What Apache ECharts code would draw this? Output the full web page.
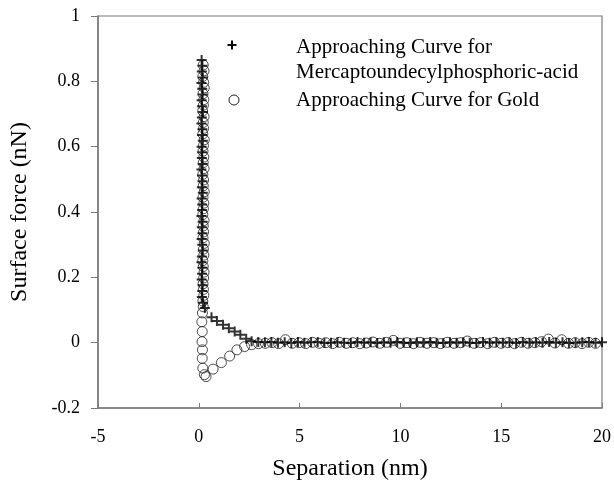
<!DOCTYPE html>
<html>
<head>
<meta charset="utf-8">
<script src="https://cdn.jsdelivr.net/npm/echarts@6/dist/echarts.min.js"></script>
<style>
  html, body { margin: 0; padding: 0; background: #fff; }
  #main { width: 614px; height: 487px; }
</style>
</head>
<body>
<div id="main"></div>
<script>
// separation (nm) / force (nN)
let mupaSep = [
  0.14, 0.18, 0.15, 0.2, 0.13, 0.17, 0.19, 0.14, 0.16, 0.21,
  0.15, 0.13, 0.18, 0.16, 0.2, 0.14, 0.17, 0.15, 0.19, 0.13,
  0.16, 0.18, 0.15, 0.2, 0.14, 0.17, 0.16, 0.13, 0.19, 0.15,
  0.18, 0.14, 0.17, 0.2, 0.15, 0.13, 0.18, 0.16, 0.14, 0.19,
  0.17, 0.15, 0.21,
  0.3, 0.63, 0.9, 1.2, 1.49, 1.78, 2.06, 2.35,
  2.62, 2.95, 3.28, 3.6, 3.93, 4.26, 4.59, 4.92, 5.24, 5.57,
  5.9, 6.23, 6.56, 6.88, 7.21, 7.54, 7.87, 8.2, 8.52, 8.85,
  9.18, 9.51, 9.84, 10.16, 10.49, 10.82, 11.15, 11.48, 11.8, 12.13,
  12.46, 12.79, 13.12, 13.44, 13.77, 14.1, 14.43, 14.76, 15.08, 15.41,
  15.74, 16.07, 16.4, 16.72, 17.05, 17.38, 17.71, 18.04, 18.36, 18.69,
  19.02, 19.35, 19.68, 20.0,
];
let mupaForce = [
  0.865, 0.848, 0.83, 0.812, 0.795, 0.777, 0.76, 0.742, 0.724, 0.706,
  0.689, 0.671, 0.653, 0.636, 0.618, 0.6, 0.583, 0.565, 0.547, 0.53,
  0.512, 0.494, 0.476, 0.459, 0.441, 0.423, 0.406, 0.388, 0.37, 0.353,
  0.335, 0.317, 0.3, 0.282, 0.264, 0.246, 0.229, 0.211, 0.193, 0.176,
  0.158, 0.14, 0.122,
  0.106, 0.078, 0.066, 0.055, 0.044, 0.034, 0.024, 0.012,
  0.004, 0.002, 0.001, 0.002, 0.0, 0.001, -0.001, 0.002, 0.0, 0.001,
  0.002, -0.001, 0.0, 0.001, 0.0, -0.001, 0.002, 0.0, 0.001, -0.001,
  0.001, 0.0, 0.002, 0.0, -0.001, 0.001, 0.0, 0.002, 0.0, -0.001,
  0.001, 0.0, 0.001, 0.0, -0.001, 0.002, 0.0, 0.001, 0.0, 0.001,
  -0.001, 0.002, 0.0, 0.001, 0.0, 0.002, 0.0, 0.001, -0.001, 0.0,
  0.001, 0.002, 0.0, 0.001,
];
let goldSep = [
  0.22, 0.26, 0.2, 0.24, 0.27, 0.21, 0.25, 0.23, 0.19, 0.26,
  0.22, 0.24, 0.2, 0.27, 0.23, 0.21, 0.25, 0.22, 0.26, 0.2,
  0.24, 0.22, 0.27, 0.21, 0.25, 0.23, 0.2, 0.26, 0.22, 0.24,
  0.21, 0.27, 0.23, 0.25, 0.2, 0.22, 0.26, 0.24, 0.21, 0.23,
  0.25, 0.2, 0.22, 0.18, 0.15, 0.17, 0.16, 0.18, 0.17, 0.2,
  0.28, 0.36,
  0.71, 1.12, 1.53, 1.89, 2.27,
  2.62, 2.96, 3.3, 3.63, 3.96, 4.3, 4.63, 4.97, 5.3, 5.64,
  5.97, 6.3, 6.64, 6.97, 7.31, 7.64, 7.98, 8.31, 8.64, 8.98,
  9.31, 9.65, 9.98, 10.32, 10.65, 10.98, 11.32, 11.65, 11.99, 12.32,
  12.66, 12.99, 13.32, 13.66, 13.99, 14.33, 14.66, 15.0, 15.33, 15.66,
  16.0, 16.33, 16.67, 17.0, 17.34, 17.67, 18.0, 18.34, 18.67, 19.01,
  19.34, 19.68,
];
let goldForce = [
  0.85, 0.832, 0.815, 0.797, 0.78, 0.762, 0.744, 0.727, 0.709, 0.692,
  0.674, 0.656, 0.639, 0.621, 0.603, 0.586, 0.568, 0.551, 0.533, 0.515,
  0.498, 0.48, 0.462, 0.445, 0.427, 0.41, 0.392, 0.374, 0.357, 0.339,
  0.321, 0.304, 0.286, 0.268, 0.251, 0.233, 0.216, 0.198, 0.18, 0.163,
  0.145, 0.127, 0.11, 0.091, 0.064, 0.034, 0.003, -0.022, -0.048, -0.078,
  -0.098, -0.104,
  -0.081, -0.061, -0.041, -0.022, -0.012,
  -0.006, -0.003, -0.002, 0.0, -0.003, 0.009, -0.002, 0.0, -0.003, 0.001,
  -0.002, 0.0, -0.003, 0.001, -0.002, 0.0, -0.003, -0.001, 0.002, -0.002,
  0.001, 0.007, -0.002, 0.0, -0.003, 0.001, -0.002, 0.0, -0.003, 0.001,
  -0.002, 0.0, 0.005, -0.002, 0.0, -0.003, 0.001, -0.002, 0.0, -0.003,
  0.001, -0.002, 0.0, 0.003, 0.011, -0.001, 0.009, -0.002, 0.0, -0.003,
  0.001, -0.002,
];
let seriesNames = [
  "Approaching Curve for Mercaptoundecylphosphoric-acid",
  "Approaching Curve for Gold",
];
let legendLines = [
  "Approaching Curve for",
  "Mercaptoundecylphosphoric-acid",
  "Approaching Curve for Gold",
];

let font = "'Liberation Serif', 'Times New Roman', serif";
let plusIcon = "path://M4,0H6V4H10V6H6V10H4V6H0V4H4Z";
let pair = (xs, ys) => xs.map((x, i) => [x, ys[i]]);

let myChart = echarts.init(document.getElementById("main"), null, {
  renderer: "canvas",
});

let option = {
  animation: false,
  backgroundColor: "#fff",
  grid: {
    left: 98,
    right: 9,
    top: 16,
    bottom: 79,
    show: true,
    borderColor: "#7a7a7a",
    borderWidth: 1.2,
  },
  xAxis: {
    type: "value",
    min: -5,
    max: 20,
    interval: 5,
    name: "Separation (nm)",
    nameLocation: "middle",
    nameGap: 49,
    nameTextStyle: { fontFamily: font, fontSize: 24, color: "#000" },
    axisLine: { onZero: false, lineStyle: { color: "#7a7a7a", width: 1.5 } },
    axisTick: { inside: true, length: 5, lineStyle: { color: "#7a7a7a" } },
    axisLabel: { fontFamily: font, fontSize: 18, color: "#000", margin: 20 },
    splitLine: { show: false },
  },
  yAxis: {
    type: "value",
    min: -0.2,
    max: 1,
    interval: 0.2,
    name: "Surface force (nN)",
    nameLocation: "middle",
    nameGap: 66,
    nameTextStyle: { fontFamily: font, fontSize: 24, color: "#000" },
    axisLine: { onZero: false, lineStyle: { color: "#7a7a7a", width: 1.5 } },
    axisTick: { inside: false, length: 7, lineStyle: { color: "#7a7a7a" } },
    axisLabel: { fontFamily: font, fontSize: 18, color: "#000", margin: 18 },
    splitLine: { show: false },
  },
  legend: { show: false },
  series: [
    {
      name: seriesNames[1],
      type: "scatter",
      data: pair(goldSep, goldForce),
      symbol: "circle",
      symbolSize: 10,
      clip: false,
      itemStyle: { color: "rgba(0,0,0,0)", borderColor: "#222", borderWidth: 1 },
      z: 2,
    },
    {
      name: seriesNames[0],
      type: "scatter",
      data: pair(mupaSep, mupaForce),
      symbol: plusIcon,
      symbolSize: 10,
      clip: false,
      itemStyle: { color: "#000" },
      z: 3,
    },
  ],
  graphic: [
    { type: "rect", shape: { x: 227.5, y: 44, width: 9, height: 2 }, style: { fill: "#000" } },
    { type: "rect", shape: { x: 231, y: 40.5, width: 2, height: 9 }, style: { fill: "#000" } },
    {
      type: "text", x: 296, y: 47,
      style: { text: legendLines[0], font: "21px " + font, fill: "#000", verticalAlign: "middle" },
    },
    {
      type: "text", x: 296, y: 72,
      style: { text: legendLines[1], font: "21px " + font, fill: "#000", verticalAlign: "middle" },
    },
    {
      type: "circle", shape: { cx: 234, cy: 100, r: 5 },
      style: { fill: "none", stroke: "#222", lineWidth: 1 },
    },
    {
      type: "text", x: 296, y: 100,
      style: { text: legendLines[2], font: "21px " + font, fill: "#000", verticalAlign: "middle" },
    },
  ],
};

myChart.setOption(option);
</script>
</body>
</html>
